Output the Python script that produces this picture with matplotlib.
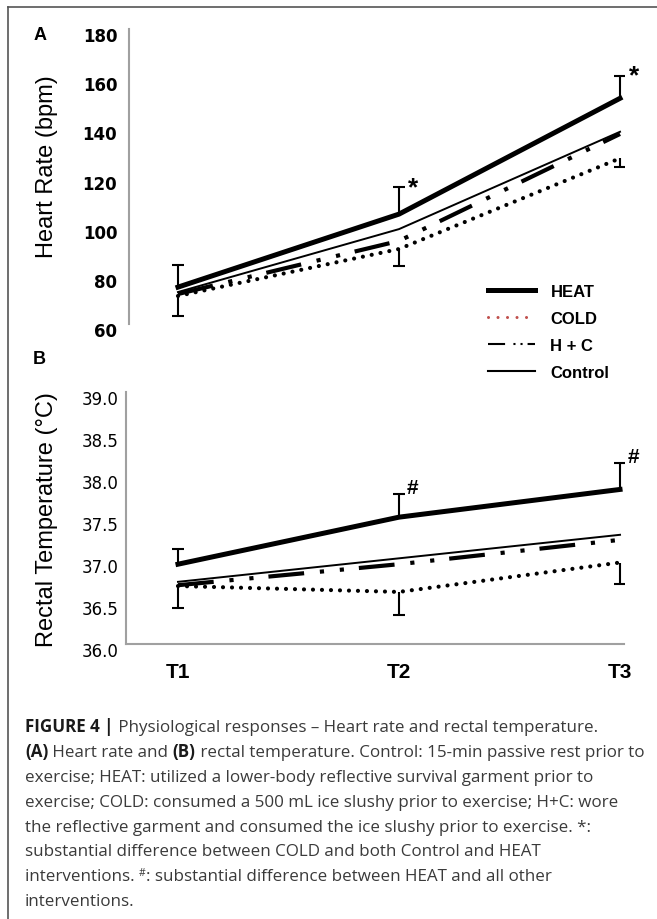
import numpy as np
import matplotlib
matplotlib.use("Agg")
from matplotlib import pyplot as plt
from matplotlib.lines import Line2D
from matplotlib.transforms import ScaledTranslation

# values
time_labels = ["T1", "T2", "T3"]

hr_heat = [75.0, 104.7, 151.8]
hr_cold = [71.4, 90.5, 127.4]
hr_hc = [72.2, 93.8, 137.3]
hr_control = [73.0, 98.6, 138.2]
hr_heat_err = [9.0, 11.0, 9.2]    # only the upper half is drawn
hr_cold_err = [8.2, 6.8, 3.7]     # only the lower half is drawn
hr_ticks = [60, 80, 100, 120, 140, 160, 180]
hr_marks = ["", "*", "*"]

rt_heat = [36.95, 37.51, 37.84]
rt_cold = [36.69, 36.62, 36.97]
rt_hc = [36.70, 36.95, 37.24]
rt_control = [36.74, 37.02, 37.30]
rt_heat_err = [0.18, 0.27, 0.31]
rt_cold_err = [0.26, 0.27, 0.25]
rt_ticks = [36.0, 36.5, 37.0, 37.5, 38.0, 38.5, 39.0]
rt_marks = ["", "#", "#"]

legend_labels = ["HEAT", "COLD", "H + C", "Control"]

caption_lines = [
    [("FIGURE 4 |", "bold"), (" Physiological responses \u2013 Heart rate and rectal temperature.", "normal")],
    [("(A)", "bold"), (" Heart rate and ", "normal"), ("(B)", "bold"),
     (" rectal temperature. Control: 15-min passive rest prior to", "normal")],
    [("exercise; HEAT: utilized a lower-body reflective survival garment prior to", "normal")],
    [("exercise; COLD: consumed a 500 mL ice slushy prior to exercise; H+C: wore", "normal")],
    [("the reflective garment and consumed the ice slushy prior to exercise. *:", "normal")],
    [("substantial difference between COLD and both Control and HEAT", "normal")],
    [("interventions. ", "normal"), ("#", "sup"), (": substantial difference between HEAT and all other", "normal")],
    [("interventions.", "normal")],
]

SANS = ["Liberation Sans", "DejaVu Sans"]
CAPTION_FONT = ["Open Sans", "Liberation Sans", "DejaVu Sans"]
W, H = 657, 920

fig = plt.figure(figsize=(W / 100, H / 100), dpi=100)


def px_box(left, top, right, bottom):
    return [left / W, 1 - bottom / H, (right - left) / W, (bottom - top) / H]


ax_hr = fig.add_axes(px_box(129, 30, 624, 325))
ax_rt = fig.add_axes(px_box(126, 393, 624, 645))
x = np.arange(len(time_labels))


def draw_panel(ax, heat, cold, hc, ctrl, heat_err, cold_err, marks, mark_dy, mark_size):
    ax.plot(x, ctrl, color="black", lw=1.4)
    ax.plot(x, hc, color="black", lw=3.0, ls=(0, (8.6, 3.8, 1, 3.8, 1, 3.6)))
    ax.plot(x, cold, color="black", lw=3.0, ls=(0, (0.01, 2.15)), dash_capstyle="round")
    ax.plot(x, heat, color="black", lw=3.6)

    top = np.array(heat) + np.array(heat_err)
    bot = np.array(cold) - np.array(cold_err)
    ax.vlines(x, heat, top, color="black", lw=1.5)
    ax.vlines(x, bot, cold, color="black", lw=1.5)
    ax.plot(x, top, ls="none", marker="_", ms=8, mew=1.5, color="black")
    ax.plot(x, bot, ls="none", marker="_", ms=8, mew=1.5, color="black")

    for xi, yi, m in zip(x, top, marks):
        if m:
            ax.annotate(m, (xi, yi), xytext=(10, mark_dy), textcoords="offset points",
                        ha="center", va="center", fontsize=mark_size, fontweight="bold",
                        family=SANS)


draw_panel(ax_hr, hr_heat, hr_cold, hr_hc, hr_control, hr_heat_err, hr_cold_err, hr_marks, 0, 19)
draw_panel(ax_rt, rt_heat, rt_cold, rt_hc, rt_control, rt_heat_err, rt_cold_err, rt_marks, 5, 15)

ax_hr.set_xlim(-0.2217, 2.018)
ax_hr.set_ylim(60, 180)
ax_hr.set_yticks(hr_ticks)
ax_hr.set_yticklabels([str(t) for t in hr_ticks], fontsize=12, fontweight="bold", family=["DejaVu Sans"])
ax_hr.set_xticks([])
for s in ["top", "right", "bottom"]:
    ax_hr.spines[s].set_visible(False)

ax_rt.set_xlim(-0.2353, 2.018)
ax_rt.set_ylim(36, 39)
ax_rt.set_yticks(rt_ticks)
ax_rt.set_yticklabels([f"{t:.1f}" for t in rt_ticks], fontsize=12, family=["DejaVu Sans"])
ax_rt.set_xticks(x)
ax_rt.set_xticklabels(time_labels, fontsize=15, fontweight="bold", family=SANS)
for s in ["top", "right"]:
    ax_rt.spines[s].set_visible(False)

for ax, pad in [(ax_hr, 8.5), (ax_rt, 5.5)]:
    ax.patch.set_visible(False)
    for s in ["left", "bottom"]:
        ax.spines[s].set_color("#a0a0a0")
        ax.spines[s].set_linewidth(1.5)
    ax.tick_params(axis="y", length=0, pad=pad)
    ax.tick_params(axis="x", length=0, pad=13)

fig.text(47 / W, 1 - 167 / H, "Heart Rate (bpm)", rotation=90, ha="center", va="center",
         fontsize=17, family=SANS)
fig.text(47 / W, 1 - 520 / H, "Rectal Temperature (\u00b0C)", rotation=90, ha="center", va="center",
         fontsize=17, family=SANS)
fig.text(40 / W, 1 - 35 / H, "A", ha="center", va="center", fontsize=13, fontweight="bold", family=SANS)
fig.text(39 / W, 1 - 359 / H, "B", ha="center", va="center", fontsize=13, fontweight="bold", family=SANS)

handles = [
    Line2D([], [], color="black", lw=3.6),
    Line2D([], [], color="#c0504d", lw=2.2, ls=(0, (0.01, 3.1)), dash_capstyle="round"),
    Line2D([], [], color="black", lw=1.5, ls=(0, (8.2, 4, 1, 2.4, 1, 2.4))),
    Line2D([], [], color="black", lw=1.5),
]
fig.legend(handles, legend_labels, loc="upper left", bbox_to_anchor=(488 / W, 1 - 285 / H),
           frameon=False, borderpad=0, borderaxespad=0, handlelength=2.8, handletextpad=0.95,
           labelspacing=0.72, prop={"family": SANS, "weight": "bold", "size": 12})

# outer frame (only top and left edges fall inside the image)
fig.add_artist(Line2D([8 / W, 1], [1 - 8 / H, 1 - 8 / H], transform=fig.transFigure, color="#555555", lw=1.2))
fig.add_artist(Line2D([8 / W, 8 / W], [0, 1 - 8 / H], transform=fig.transFigure, color="#555555", lw=1.2))

fig.canvas.draw()
renderer = fig.canvas.get_renderer()

# tick labels sit a few pixels below their gridline in the reference
shift = ScaledTranslation(0, -0.05, fig.dpi_scale_trans)
for ax in [ax_hr, ax_rt]:
    for tick in ax.yaxis.get_major_ticks():
        tick.label1.set_transform(tick.label1.get_transform() + shift)


def seg_width(text, **kw):
    a = fig.text(0, 0, "x" + text + "x", **kw)
    b = fig.text(0, 0, "xx", **kw)
    w = a.get_window_extent(renderer).width - b.get_window_extent(renderer).width
    a.remove()
    b.remove()
    return w


cap_size = 12.25
base_y = 732
for i, line in enumerate(caption_lines):
    cx = 25
    y = base_y + i * 24.9
    for text, style in line:
        if style == "sup":
            kw = dict(fontsize=7.5, family=CAPTION_FONT, color="#333333")
            fig.text(cx / W, 1 - (y - 5) / H, text, ha="left", va="baseline", **kw)
        else:
            kw = dict(fontsize=cap_size, family=CAPTION_FONT,
                      fontweight="bold" if style == "bold" else "normal",
                      color="#1a1a1a" if style == "bold" else "#3a3a3a")
            fig.text(cx / W, 1 - y / H, text, ha="left", va="baseline", **kw)
        cx += seg_width(text, **kw)

fig.savefig("out.png", dpi=100)
